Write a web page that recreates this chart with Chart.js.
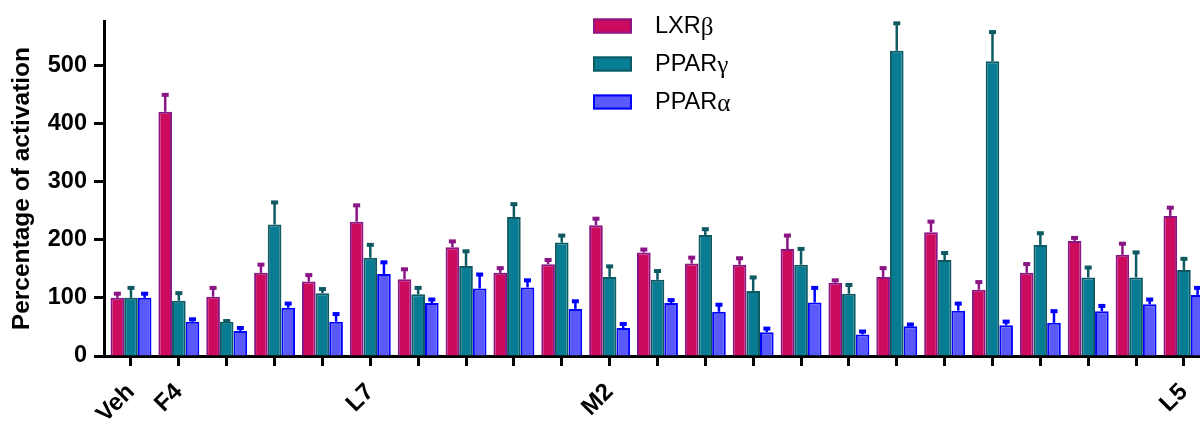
<!DOCTYPE html>
<html>
<head>
<meta charset="utf-8">
<script src="https://cdn.jsdelivr.net/npm/chart.js@4.4.1/dist/chart.umd.min.js"></script>
<style>
  html, body { margin: 0; padding: 0; background: #fff; overflow: hidden; width: 1200px; height: 423px; }
  #wrap { position: relative; width: 1216px; height: 423px; }
</style>
</head>
<body>
<div id="wrap"><canvas id="c"></canvas></div>
<script>
// ---- data ----
const categories = ['Veh','F4','','','','L7','','','','','M2','','','','','','','','','','','','L5'];
const seriesNames = ['LXR\u03B2', 'PPAR\u03B3', 'PPAR\u03B1'];
const lxrValues   = [100, 420, 102, 143, 128, 231, 132, 187, 143, 158, 225, 178, 159, 157, 184, 126, 136, 213, 114, 143, 198, 174, 241];
const lxrErrors   = [8, 30, 16, 15, 12, 29, 18, 11, 9, 8, 12, 6, 11, 12, 24, 5, 16, 19, 14, 16, 6, 20, 15];
const pparGValues = [100, 95, 59, 226, 108, 169, 106, 155, 239, 195, 136, 131, 208, 112, 157, 107, 525, 165, 507, 191, 135, 135, 148];
const pparGErrors = [18, 14, 2, 39, 8, 23, 12, 26, 23, 13, 19, 16, 11, 24, 28, 16, 48, 13, 51, 21, 18, 44, 20];
const pparAValues = [100, 59, 43, 83, 59, 141, 91, 116, 118, 81, 48, 91, 76, 41, 92, 37, 51, 78, 53, 57, 77, 89, 105];
const pparAErrors = [8, 5, 6, 8, 14, 21, 7, 25, 13, 14, 8, 6, 13, 7, 26, 6, 4, 13, 7, 21, 10, 9, 13];
const yTickValues = [0, 100, 200, 300, 400, 500];

// ---- styles ----
const fills   = ['#CC0A5E', '#077C92', '#5A5AFA'];
const borders = ['#8A1584', '#0E5A62', '#0000FF'];
const FONT = 'Arial, "Liberation Sans", Helvetica, sans-serif';

const toPoints = arr => arr.map((v, i) => ({ x: i, y: v }));
const valueSets = [lxrValues, pparGValues, pparAValues];
const errorSets = [lxrErrors, pparGErrors, pparAErrors];

const errorBarPlugin = {
  id: 'errorBars',
  afterDatasetsDraw(chart) {
    const ctx = chart.ctx;
    const yScale = chart.scales.y;
    chart.data.datasets.forEach((ds, di) => {
      const meta = chart.getDatasetMeta(di);
      const errs = errorSets[di];
      ctx.save();
      ctx.strokeStyle = borders[di];
      ctx.fillStyle = borders[di];
      meta.data.forEach((el, j) => {
        const v = ds.data[j].y;
        const yTop = yScale.getPixelForValue(v + errs[j]);
        ctx.lineWidth = 2.5;
        ctx.beginPath();
        ctx.moveTo(el.x, el.y);
        ctx.lineTo(el.x, yTop);
        ctx.stroke();
        ctx.fillRect(el.x - 3.5, yTop - 1.5, 7, 4);
      });
      ctx.restore();
    });
  }
};

const legendPlugin = {
  id: 'customLegend',
  afterDraw(chart) {
    const ctx = chart.ctx;
    const boxX = 593, boxW = 39, boxH = 15, textX = 655;
    const rowY = [26, 64, 102];
    ctx.save();
    chart.data.datasets.forEach((ds, i) => {
      const cy = rowY[i];
      ctx.fillStyle = fills[i];
      ctx.fillRect(boxX, cy - boxH / 2, boxW, boxH);
      ctx.strokeStyle = borders[i];
      ctx.lineWidth = 2;
      ctx.strokeRect(boxX + 1, cy - boxH / 2 + 1, boxW - 2, boxH - 2);
      const label = ds.label;
      const main = label.slice(0, -1);
      const greek = label.slice(-1);
      ctx.fillStyle = '#000';
      ctx.textBaseline = 'middle';
      ctx.textAlign = 'left';
      ctx.font = '23.5px ' + FONT;
      ctx.fillText(main, textX, cy + 1);
      const w = ctx.measureText(main).width;
      ctx.font = '25px "Liberation Serif", "Times New Roman", serif';
      ctx.fillText(greek, textX + w, cy + 2);
    });
    ctx.restore();
  }
};

new Chart(document.getElementById('c'), {
  type: 'bar',
  data: {
    datasets: valueSets.map((vals, i) => ({
      label: seriesNames[i],
      data: toPoints(vals),
      backgroundColor: fills[i],
      borderColor: borders[i],
      borderWidth: 2,
      categoryPercentage: 0.855,
      barPercentage: 1.0
    }))
  },
  options: {
    responsive: true,
    maintainAspectRatio: false,
    animation: false,
    layout: { padding: { top: 21, right: 0, left: 0, bottom: 0 } },
    plugins: {
      legend: { display: false },
      tooltip: { enabled: false }
    },
    scales: {
      x: {
        type: 'linear',
        min: -0.564,
        max: 22.67,
        offset: false,
        afterBuildTicks: s => { s.ticks = categories.map((c, i) => ({ value: i })); },
        afterFit: s => { s.height = 67; s.paddingLeft = 0; s.paddingRight = 0; },
        ticks: {
          autoSkip: false,
          minRotation: 45,
          maxRotation: 45,
          padding: 12,
          color: '#000',
          font: { family: FONT, size: 24, weight: 'bold' },
          callback: v => categories[v] || ''
        },
        grid: {
          offset: false,
          drawOnChartArea: false,
          drawTicks: true,
          tickLength: 10,
          tickWidth: 3,
          tickColor: '#000'
        },
        border: { display: true, color: '#000', width: 3 }
      },
      y: {
        min: 0,
        max: 576,
        afterBuildTicks: s => { s.ticks = yTickValues.map(v => ({ value: v })); },
        afterFit: s => { s.width = 104; },
        ticks: {
          padding: 7,
          color: '#000',
          font: { family: FONT, size: 23.5, weight: 'bold' }
        },
        grid: {
          drawOnChartArea: false,
          drawTicks: true,
          tickLength: 10,
          tickWidth: 3,
          tickColor: '#000'
        },
        border: { display: true, color: '#000', width: 3 },
        title: {
          display: true,
          text: 'Percentage of activation',
          color: '#000',
          padding: { top: 8, bottom: 0 },
          font: { family: FONT, size: 24.5, weight: 'bold' }
        }
      }
    }
  },
  plugins: [errorBarPlugin, legendPlugin]
});
</script>
</body>
</html>
